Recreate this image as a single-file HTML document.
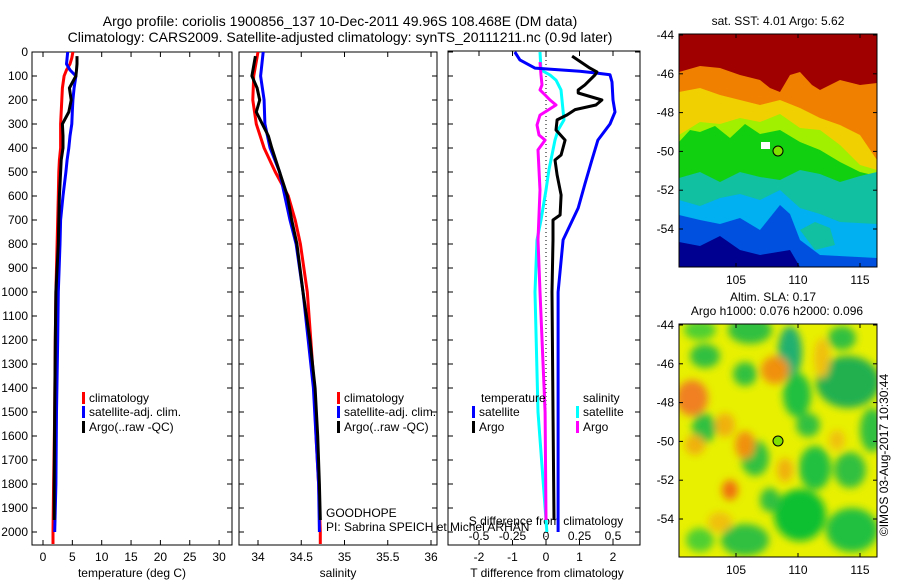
<!DOCTYPE html>
<html><head><meta charset="utf-8"><style>
html,body{margin:0;padding:0;background:#fff}
svg{display:block;font-family:"Liberation Sans",sans-serif}
</style></head><body>
<svg id="fig" width="900" height="580" viewBox="0 0 900 580">
<defs>
<clipPath id="c1"><rect x="32" y="52" width="200" height="493"/></clipPath>
<clipPath id="c2"><rect x="239" y="52" width="198" height="493"/></clipPath>
<clipPath id="c3"><rect x="448" y="51" width="192" height="494"/></clipPath>
<clipPath id="cm1"><rect x="679" y="34" width="198" height="233"/></clipPath>
<clipPath id="cm2"><rect x="679" y="324" width="198" height="233"/></clipPath>
<filter id="blur" x="-20%" y="-20%" width="140%" height="140%"><feGaussianBlur stdDeviation="4"/></filter>
</defs>
<text x="340" y="26" text-anchor="middle" font-size="14">Argo profile: coriolis 1900856_137 10-Dec-2011 49.96S 108.468E (DM data)</text>
<text x="340" y="42" text-anchor="middle" font-size="14">Climatology: CARS2009. Satellite-adjusted climatology: synTS_20111211.nc (0.9d later)</text>

<!-- top map -->
<g clip-path="url(#cm1)">
<rect x="679" y="34" width="198" height="233" fill="#a00000"/>
<polygon fill="#f08000" points="679,72 700,66 720,68 740,75 760,80 770,88 780,92 790,75 800,72 812,85 820,90 840,80 860,85 877,83 877,267 679,267"/>
<polygon fill="#f0d000" points="679,92 700,88 720,95 740,100 760,105 780,100 800,108 820,118 840,125 860,135 877,160 877,267 679,267"/>
<polygon fill="#a0f000" points="679,135 700,122 720,124 740,118 760,122 780,114 800,128 820,130 840,145 860,165 877,170 877,267 679,267"/>
<polygon fill="#10d010" points="679,142 690,130 700,132 715,126 730,138 745,124 760,134 780,130 800,142 820,150 840,162 860,172 877,176 877,267 679,267"/>
<polygon fill="#10c0a0" points="679,178 700,172 720,182 740,172 760,177 780,180 800,170 820,174 840,182 860,176 877,172 877,267 679,267"/>
<polygon fill="#00b0f0" points="679,200 700,206 720,198 740,194 760,200 780,190 800,208 820,214 840,222 877,224 877,267 679,267"/>
<polygon fill="#0050e0" points="679,215 700,220 720,224 740,218 760,230 780,205 790,214 800,240 820,255 877,258 877,267 679,267"/>
<polygon fill="#000090" points="679,242 700,246 720,236 740,250 760,255 790,250 800,267 679,267"/>
<polygon fill="#10c0a0" points="800,230 815,222 830,228 835,245 815,250"/>
<rect x="761" y="142" width="9" height="7" fill="#fff"/>
</g>
<circle cx="778" cy="151" r="5" fill="#80e000" stroke="#000" stroke-width="1"/>
<rect x="679" y="34" width="198" height="233" fill="none" stroke="#000"/>
<text x="778" y="25" text-anchor="middle" font-size="12">sat. SST: 4.01 Argo: 5.62</text>

<!-- bottom map -->
<g clip-path="url(#cm2)">
<rect x="679" y="324" width="198" height="233" fill="#e8f000"/>
<g filter="url(#blur)">
<ellipse cx="750" cy="330" rx="22" ry="14" fill="#30c040"/>
<ellipse cx="700" cy="330" rx="16" ry="10" fill="#50d030"/>
<ellipse cx="790" cy="352" rx="12" ry="26" fill="#20b070"/>
<ellipse cx="842" cy="338" rx="14" ry="12" fill="#30c040"/>
<ellipse cx="848" cy="382" rx="32" ry="26" fill="#20b050"/>
<ellipse cx="797" cy="395" rx="14" ry="22" fill="#20c040"/>
<ellipse cx="745" cy="374" rx="12" ry="12" fill="#30c040"/>
<ellipse cx="705" cy="356" rx="15" ry="12" fill="#30c040"/>
<ellipse cx="704" cy="428" rx="12" ry="15" fill="#30c040"/>
<ellipse cx="755" cy="458" rx="14" ry="18" fill="#30c040"/>
<ellipse cx="808" cy="425" rx="12" ry="12" fill="#30c040"/>
<ellipse cx="815" cy="468" rx="16" ry="22" fill="#20c040"/>
<ellipse cx="850" cy="470" rx="16" ry="18" fill="#30c040"/>
<ellipse cx="800" cy="515" rx="26" ry="26" fill="#10c030"/>
<ellipse cx="745" cy="540" rx="24" ry="16" fill="#30c040"/>
<ellipse cx="852" cy="530" rx="26" ry="22" fill="#20c040"/>
<ellipse cx="700" cy="540" rx="14" ry="12" fill="#50d030"/>
<ellipse cx="872" cy="430" rx="12" ry="22" fill="#30c040"/>
<ellipse cx="770" cy="500" rx="10" ry="12" fill="#30c040"/>
<ellipse cx="692" cy="398" rx="16" ry="18" fill="#f08020"/>
<ellipse cx="775" cy="370" rx="14" ry="14" fill="#f09010"/>
<ellipse cx="822" cy="358" rx="8" ry="20" fill="#f0c010"/>
<ellipse cx="725" cy="425" rx="10" ry="12" fill="#f0b010"/>
<ellipse cx="745" cy="445" rx="10" ry="14" fill="#f09010"/>
<ellipse cx="695" cy="445" rx="10" ry="10" fill="#f0b010"/>
<ellipse cx="730" cy="490" rx="8" ry="10" fill="#f07010"/>
<ellipse cx="785" cy="470" rx="8" ry="12" fill="#f0b010"/>
<ellipse cx="720" cy="522" rx="12" ry="10" fill="#f0c010"/>
<ellipse cx="837" cy="440" rx="8" ry="10" fill="#f0c010"/>
</g>
</g>
<circle cx="778" cy="441" r="5" fill="#80e000" stroke="#000" stroke-width="1"/>
<rect x="679" y="324" width="198" height="233" fill="none" stroke="#000"/>
<text x="773" y="301" text-anchor="middle" font-size="12">Altim. SLA: 0.17</text>
<text x="777" y="315" text-anchor="middle" font-size="12">Argo h1000: 0.076 h2000: 0.096</text>
<text transform="translate(888,455) rotate(-90)" text-anchor="middle" font-size="12">©IMOS 03-Aug-2017 10:30:44</text>

<text x="326" y="517" font-size="12">GOODHOPE</text>
<text x="326" y="531" font-size="12">PI: Sabrina SPEICH et Michel ARHAN</text>
</svg>
<script>
// ---- data ----
const depthTicks = [0,100,200,300,400,500,600,700,800,900,1000,1100,1200,1300,1400,1500,1600,1700,1800,1900,2000];
const tempTicks = [0,5,10,15,20,25,30];
const salTicks = [34,34.5,35,35.5,36];
const salTickLabels = ['34','34.5','35','35.5','36'];
const tdiffTicks = [-2,-1,0,1,2];
const sdiffTicks = [-0.5,-0.25,0,0.25,0.5];
const sdiffTickLabels = ['-0.5','-0.25','0','0.25','0.5'];
const latTicks = [-44,-46,-48,-50,-52,-54];
const lonTicks = [105,110,115];

const climDepthT = [0,25,50,75,100,150,200,250,300,350,400,450,500,600,700,800,1000,1200,1500,1800,2000,2050];
const climTemp = [5.1,4.9,4.6,4.0,3.6,3.3,3.2,3.1,3.0,3.0,3.0,2.8,2.7,2.6,2.5,2.4,2.2,2.1,2.0,1.8,1.7,1.7];
const satDepthT = [0,25,50,75,100,150,200,250,300,350,400,450,500,600,700,800,1000,1200,1500,1800,2000];
const satTemp = [4.2,4.1,4.0,4.6,5.6,5.3,5.1,5.0,4.9,4.6,4.4,4.1,3.9,3.4,3.0,2.9,2.6,2.5,2.3,2.2,2.0];
const argoDepthT = [17,50,75,100,150,200,250,300,350,400,450,500,600,700,800,1000,1200,1500,1800,1950];
const argoTemp = [5.8,5.8,5.7,5.6,4.5,4.8,4.4,3.3,3.4,3.4,3.1,3.0,2.8,2.7,2.6,2.2,2.1,2.0,1.9,1.9];

const climDepthS = [0,100,200,300,400,500,600,700,800,1000,1200,1400,1600,1800,2000,2050];
const climSal = [34.00,33.95,33.94,33.98,34.07,34.20,34.35,34.43,34.49,34.57,34.61,34.65,34.67,34.70,34.72,34.72];
const satDepthS = [0,100,200,300,400,500,600,700,800,1000,1200,1400,1600,1800,2000];
const satSal = [34.06,34.03,34.07,34.08,34.14,34.25,34.31,34.37,34.44,34.52,34.58,34.64,34.67,34.70,34.71];
const argoDepthS = [17,100,150,200,250,300,350,400,500,600,700,800,1000,1200,1400,1600,1800,1950];
const argoSal = [33.97,33.93,33.99,34.02,33.98,34.05,34.12,34.16,34.25,34.34,34.39,34.45,34.52,34.60,34.66,34.69,34.71,34.72];

const satTdiffDepth = [0,33,67,80,87,95,125,200,250,300,367,450,550,650,783,1000,1500,2000];
const satTdiff = [-0.93,-0.78,-0.33,1.01,1.46,1.91,1.97,2.0,2.06,1.91,1.55,1.37,1.16,0.96,0.51,0.36,0.36,0.36];
const argoTdiffDepth = [17,67,83,96,137,158,171,200,221,240,262,283,325,367,429,450,512,596,679,700,783,1000,1500,1950];
const argoTdiff = [0.78,1.31,1.52,1.46,1.16,0.96,0.96,1.67,1.49,0.87,0.63,0.33,0.30,0.57,0.45,0.27,0.33,0.45,0.42,0.21,0.21,0.18,0.21,0.24];
const satSdiffDepth = [0,75,96,117,158,242,283,325,367,408,492,575,700,783,1000,1500,2000];
const satSdiff = [-0.045,-0.037,0.03,0.075,0.112,0.127,0.134,0.09,0.067,0.052,0.022,0,-0.037,-0.067,-0.082,-0.06,0.007];
const argoSdiffDepth = [42,96,137,158,179,200,221,242,263,304,346,367,408,492,575,783,1000,1500,1950];
const argoSdiff = [-0.045,-0.037,-0.03,-0.045,-0.007,0.03,0.075,0.015,-0.045,-0.067,-0.052,-0.007,-0.06,-0.052,-0.045,-0.06,-0.045,-0.007,0];

// ---- scales ----
const yD = d => 52 + 0.24*d;
const xT = t => 43 + 5.87*t;
const xS = s => 258 + 86.5*(s-34);
const xTd = v => 546 + 33.5*v;
const xSd = v => 546 + 134*v;
const yLat = l => 35 + (-44 - l)*19.4;
const xLon = l => 736 + (l-105)*12.4;

const svg = document.getElementById('fig');
const NS = 'http://www.w3.org/2000/svg';
function mk(tag, attrs, parent){
  const e = document.createElementNS(NS, tag);
  for (const k in attrs) e.setAttribute(k, attrs[k]);
  (parent||svg).appendChild(e);
  return e;
}
function txt(x,y,s,anchor,size){
  const t = mk('text',{x:x,y:y,'text-anchor':anchor||'middle','font-size':size||12});
  t.textContent = s;
  return t;
}

const panels = [[32,232,52,545,'temperature'],[239,437,52,545,'salinity'],[448,640,51,545,'difference']];
panels.forEach(p=>{
  const r = mk('rect',{x:p[0],y:p[2],width:p[1]-p[0],height:p[3]-p[2],fill:'none',stroke:'#000'});
  
  
  depthTicks.forEach(d=>{
    const y = yD(d);
    mk('line',{x1:p[0],x2:p[0]+5,y1:y,y2:y,stroke:'#000'});
    mk('line',{x1:p[1],x2:p[1]-5,y1:y,y2:y,stroke:'#000'});
  });
});
depthTicks.forEach(d=>{
  const t = txt(28, yD(d)+4, String(d), 'end');
  
  
});
tempTicks.forEach(v=>{
  const x = xT(v);
  mk('line',{x1:x,x2:x,y1:545,y2:540,stroke:'#000'});
  mk('line',{x1:x,x2:x,y1:52,y2:57,stroke:'#000'});
  const t = txt(x, 561, String(v));
  
  
});
salTicks.forEach((v,i)=>{
  const x = xS(v);
  mk('line',{x1:x,x2:x,y1:545,y2:540,stroke:'#000'});
  mk('line',{x1:x,x2:x,y1:52,y2:57,stroke:'#000'});
  const t = txt(x, 561, salTickLabels[i]);
  
  
});
tdiffTicks.forEach(v=>{
  const x = xTd(v);
  mk('line',{x1:x,x2:x,y1:545,y2:540,stroke:'#000'});
  mk('line',{x1:x,x2:x,y1:51,y2:56,stroke:'#000'});
  const t = txt(x, 561, String(v));
  
  
});
sdiffTicks.forEach((v,i)=>{
  const t = txt(xSd(v), 540, sdiffTickLabels[i]);
  
  
});
let at = txt(132, 577, 'temperature (deg C)');


at = txt(338, 577, 'salinity');


at = txt(547, 577, 'T difference from climatology');


at = txt(546, 525, 'S difference from climatology');



const zl = mk('line',{x1:xTd(0),x2:xTd(0),y1:52,y2:545,stroke:'#000','stroke-dasharray':'1,3'});



function series(depths, vals, xf, color, clip, name){
  const pts = depths.map((d,i)=>xf(vals[i]).toFixed(1)+','+yD(d).toFixed(1)).join(' ');
  const pl = mk('polyline',{points:pts,fill:'none',stroke:color,'stroke-width':3,'stroke-linejoin':'round','clip-path':'url(#'+clip+')'});
  
  
}
series(climDepthT, climTemp, xT, '#ff0000', 'c1', 'temperature-climatology-line');
series(satDepthT, satTemp, xT, '#0000ff', 'c1', 'temperature-satellite-line');
series(argoDepthT, argoTemp, xT, '#000000', 'c1', 'temperature-argo-line');
series(climDepthS, climSal, xS, '#ff0000', 'c2', 'salinity-climatology-line');
series(satDepthS, satSal, xS, '#0000ff', 'c2', 'salinity-satellite-line');
series(argoDepthS, argoSal, xS, '#000000', 'c2', 'salinity-argo-line');
series(satSdiffDepth, satSdiff, xSd, '#00ffff', 'c3', 's-diff-satellite-line');
series(argoSdiffDepth, argoSdiff, xSd, '#ff00ff', 'c3', 's-diff-argo-line');
series(satTdiffDepth, satTdiff, xTd, '#0000ff', 'c3', 't-diff-satellite-line');
series(argoTdiffDepth, argoTdiff, xTd, '#000000', 'c3', 't-diff-argo-line');

function legend(x,y,color,label,name){
  const r = mk('rect',{x:x,y:y-10,width:3,height:12,fill:color});
  
  
  const t = txt(x+7, y, label, 'start');
  
  
}
legend(82,402,'#ff0000','climatology','legend-t-climatology');
legend(82,416,'#0000ff','satellite-adj. clim.','legend-t-satellite');
legend(82,431,'#000000','Argo(..raw -QC)','legend-t-argo');
legend(337,402,'#ff0000','climatology','legend-s-climatology');
legend(337,416,'#0000ff','satellite-adj. clim.','legend-s-satellite');
legend(337,431,'#000000','Argo(..raw -QC)','legend-s-argo');
let lt = txt(481, 402, 'temperature', 'start');


lt = txt(583, 402, 'salinity', 'start');


legend(472,416,'#0000ff','satellite','legend-tdiff-satellite');
legend(472,431,'#000000','Argo','legend-tdiff-argo');
legend(576,416,'#00ffff','satellite','legend-sdiff-satellite');
legend(576,431,'#ff00ff','Argo','legend-sdiff-argo');

[[34,267],[324,557]].forEach((m,mi)=>{
  latTicks.forEach(l=>{
    const y = yLat(l) + (m[0]-34);
    mk('line',{x1:679,x2:683,y1:y,y2:y,stroke:'#000'});
    mk('line',{x1:877,x2:873,y1:y,y2:y,stroke:'#000'});
    const t = txt(674, y+4, String(l), 'end');
    
    
  });
  lonTicks.forEach(l=>{
    const x = xLon(l);
    mk('line',{x1:x,x2:x,y1:m[1],y2:m[1]-4,stroke:'#000'});
    mk('line',{x1:x,x2:x,y1:m[0],y2:m[0]+4,stroke:'#000'});
    const t = txt(x, m[1]+17, String(l));
    
    
  });
});
</script>
</body></html>
